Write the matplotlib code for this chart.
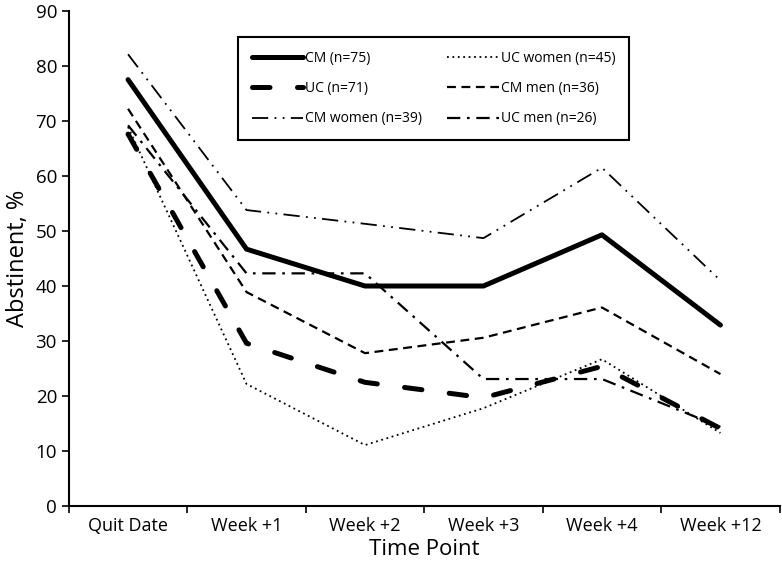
import matplotlib
matplotlib.use("Agg")
import matplotlib.pyplot as plt

plt.rcParams['font.family'] = ['Open Sans', 'DejaVu Sans']

time_points = ['Quit Date', 'Week +1', 'Week +2', 'Week +3', 'Week +4', 'Week +12']

cm_all = [77.5, 46.7, 40.0, 40.0, 49.3, 32.9]
uc_all = [67.6, 29.6, 22.5, 19.7, 25.4, 14.1]
cm_women = [82.1, 53.8, 51.3, 48.7, 61.5, 41.0]
uc_women = [68.9, 22.2, 11.1, 17.8, 26.7, 13.3]
cm_men = [72.2, 38.9, 27.8, 30.6, 36.1, 24.0]
uc_men = [69.2, 42.3, 42.3, 23.1, 23.1, 14.4]

labels = ['CM (n=75)', 'UC (n=71)', 'CM women (n=39)',
          'UC women (n=45)', 'CM men (n=36)', 'UC men (n=26)']

fig = plt.figure(figsize=(7.82, 5.7), dpi=100)
ax = fig.add_axes([0.088, 0.112, 0.909, 0.869])

x = list(range(len(time_points)))

ax.plot(x, cm_all, color='black', lw=3.6, solid_capstyle='round', label=labels[0])
ax.plot(x, uc_all, color='black', lw=3.6, dashes=(3.5, 5.5), dash_capstyle='round', label=labels[1])
ax.plot(x, cm_women, color='black', lw=1.3, dashes=(9, 3.5, 1, 3.5, 1, 3.5), label=labels[2])
ax.plot(x, uc_women, color='black', lw=1.3, dashes=(1, 2), label=labels[3])
ax.plot(x, cm_men, color='black', lw=1.6, dashes=(4, 2.5), label=labels[4])
ax.plot(x, uc_men, color='black', lw=1.6, dashes=(6, 3, 1.2, 3), label=labels[5])

ax.set_xlim(-0.5, 5.5)
ax.set_ylim(0, 90)
ax.set_yticks(range(0, 91, 10))
ax.set_xticks([i - 0.5 for i in range(7)])
ax.set_xticklabels([])
ax.set_xticks(x, minor=True)
ax.set_xticklabels(time_points, minor=True, fontsize=13)
ax.tick_params(axis='x', which='minor', length=0, pad=8)
ax.tick_params(axis='x', which='major', direction='out', length=5, width=1.2)
ax.tick_params(axis='y', direction='out', length=5, width=1.2, labelsize=13.5)

for side in ['top', 'right']:
    ax.spines[side].set_visible(False)
for side in ['left', 'bottom']:
    ax.spines[side].set_linewidth(1.5)

ax.set_xlabel('Time Point', fontsize=16, labelpad=3)
ax.set_ylabel('Abstinent, %', fontsize=17, labelpad=4)

leg = ax.legend(ncol=2, loc='upper left', bbox_to_anchor=(238 / 782, 1 - 37 / 570),
                bbox_transform=fig.transFigure, borderaxespad=0, fancybox=False,
                fontsize=10, handlelength=3.7, labelspacing=1.1, columnspacing=1.8,
                handletextpad=0.15, borderpad=1.0, edgecolor='black', framealpha=1)
leg.get_frame().set_linewidth(1.5)

fig.savefig('out.png', dpi=100)
